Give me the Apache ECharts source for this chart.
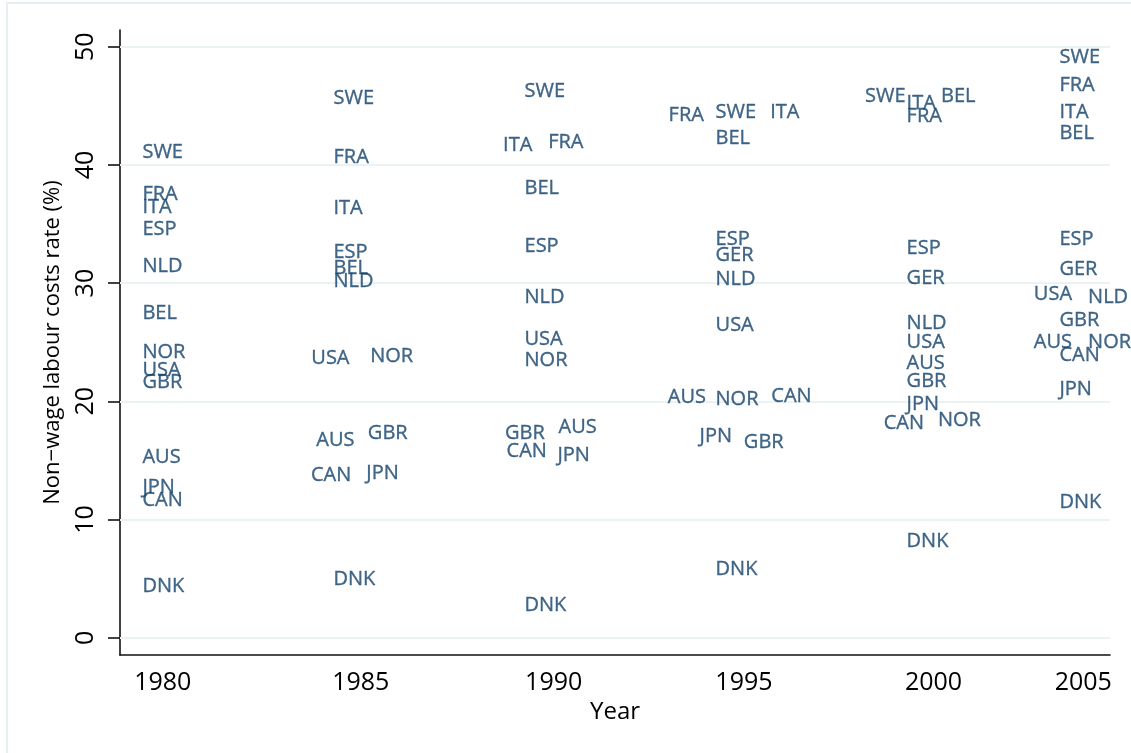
<!DOCTYPE html>
<html>
<head>
<meta charset="utf-8">
<script src="https://cdn.jsdelivr.net/npm/echarts@6/dist/echarts.min.js"></script>
<style>html,body{margin:0;padding:0;background:#fff;}#c{width:1131px;height:753px;}</style>
</head>
<body>
<div id="c"></div>
<script>
// Country codes (order used by all the arrays below)
const countries = ['SWE','FRA','ITA','BEL','ESP','GER','NLD','USA','NOR','GBR','AUS','CAN','JPN','DNK'];

// Non-wage labour costs rate (%) per survey year, in the country order above
const rate1980 = [41.2, 37.7, 36.6, 27.6, 34.7, null, 31.6, 22.8, 24.3, 21.8, 15.4, 11.8, 12.9, 4.5];
const rate1985 = [45.8, 40.8, 36.5, 31.4, 32.8, null, 30.3, 23.8, 24.0, 17.5, 16.9, 13.9, 14.1, 5.1];
const rate1990 = [46.4, 42.1, 41.8, 38.2, 33.3, null, 29.0, 25.4, 23.6, 17.5, 18.0, 15.9, 15.6, 2.9];
const rate1995 = [44.6, 44.4, 44.6, 42.4, 33.9, 32.5, 30.5, 26.6, 20.3, 16.7, 20.5, 20.6, 17.2, 6.0];
const rate2000 = [46.0, 44.3, 45.4, 46.0, 33.1, 30.6, 26.8, 25.2, 18.6, 21.9, 23.4, 18.3, 19.9, 8.3];
const rate2005 = [49.3, 46.9, 44.6, 42.8, 33.9, 31.3, 29.0, 29.2, 25.2, 27.0, 25.2, 24.1, 21.2, 11.6];

// Horizontal position of each label (year units, jittered as in the original)
const x1980 = [1980, 1980, 1980, 1980, 1980, 1980, 1980, 1980, 1980, 1980, 1980, 1980, 1980, 1980];
const x1985 = [1985, 1985, 1985, 1985, 1985, 1985, 1985, 1984.42, 1985.96, 1985.90, 1984.55, 1984.41, 1985.86, 1985];
const x1990 = [1990, 1990.62, 1989.44, 1990, 1990, 1990, 1990, 1990, 1990, 1989.49, 1990.89, 1989.53, 1990.86, 1990];
const x1995 = [1995, 1993.77, 1996.43, 1995, 1995, 1995, 1995, 1995, 1995, 1995.74, 1993.75, 1996.46, 1994.58, 1995];
const x2000 = [1998.91, 2000, 2000, 2000.90, 2000, 2000, 2000, 2000, 2000.82, 2000, 2000, 1999.40, 2000, 2000];
const x2005 = [2004, 2004, 2004, 2004, 2004, 2004, 2004.75, 2003.33, 2004.75, 2004, 2003.33, 2004, 2004, 2004];

const groups = [
  {name: '1980', x: x1980, y: rate1980},
  {name: '1985', x: x1985, y: rate1985},
  {name: '1990', x: x1990, y: rate1990},
  {name: '1995', x: x1995, y: rate1995},
  {name: '2000', x: x2000, y: rate2000},
  {name: '2005', x: x2005, y: rate2005}
];

// Axis ticks
const xTickPos = [1980.52, 1985.70, 1990.75, 1995.73, 2000.69, 2004.61];
const xTickLabels = ['1980', '1985', '1990', '1995', '2000', '2005'];
const yTicks = [0, 10, 20, 30, 40, 50];

const labelColor = '#14426b';
const font = 'Open Sans';

const series = groups.map((g, gi) => {
  const data = [];
  countries.forEach((c, i) => {
    if (g.y[i] !== null) data.push([g.x[i], g.y[i], c]);
  });
  const s = {
    type: 'scatter',
    name: g.name,
    data: data,
    symbol: 'circle',
    symbolSize: 1,
    itemStyle: {color: 'rgba(0,0,0,0)'},
    silent: true,
    clip: false,
    label: {
      show: true,
      position: 'right',
      distance: 0,
      offset: [-1, 2],
      formatter: p => p.data[2],
      color: labelColor,
      fontFamily: font,
      fontSize: 20,
      textBorderColor: labelColor,
      textBorderWidth: 0.35
    },
    z: 5
  };
  if (gi === 0) {
    s.markLine = {
      silent: true,
      symbol: 'none',
      label: {show: false},
      lineStyle: {color: '#eaf2f3', width: 2, type: 'solid'},
      data: yTicks.map(v => ({yAxis: v})),
      z: 1
    };
  }
  return s;
});

const chart = echarts.init(document.getElementById('c'), null, {renderer: 'canvas'});
chart.setOption({
  backgroundColor: '#ffffff',
  animation: false,
  graphic: [{
    type: 'rect',
    shape: {x: 7, y: 3, width: 1140, height: 760},
    style: {fill: 'none', stroke: '#e8eff2', lineWidth: 2},
    silent: true,
    z: -10
  }],
  grid: {left: 120, right: 21, top: 30, bottom: 98, containLabel: false},
  xAxis: {
    type: 'value',
    min: 1979.40,
    max: 2005.31,
    name: 'Year',
    nameLocation: 'middle',
    nameGap: 45,
    nameTextStyle: {color: '#000', fontFamily: font, fontSize: 24},
    axisLine: {show: true, onZero: false, lineStyle: {color: '#111', width: 1.6}},
    axisTick: {show: false},
    splitLine: {show: false},
    axisLabel: {
      show: true,
      customValues: xTickPos,
      formatter: v => {
        const i = xTickPos.findIndex(t => Math.abs(t - v) < 1e-6);
        return i >= 0 ? xTickLabels[i] : '';
      },
      color: '#000',
      fontFamily: font,
      fontSize: 25,
      margin: 15,
      showMinLabel: true,
      showMaxLabel: true
    }
  },
  yAxis: {
    type: 'value',
    min: -1.46,
    max: 51.41,
    name: 'Non\u2212wage labour costs rate (%)',
    nameLocation: 'middle',
    nameRotate: 90,
    nameGap: 56,
    nameTextStyle: {color: '#000', fontFamily: font, fontSize: 22},
    axisLine: {show: true, onZero: false, lineStyle: {color: '#111', width: 1.6}},
    axisTick: {show: true, customValues: yTicks, length: 12, lineStyle: {color: '#111', width: 1.6}},
    splitLine: {show: false},
    axisLabel: {
      show: true,
      customValues: yTicks,
      rotate: 90,
      color: '#000',
      fontFamily: font,
      fontSize: 25,
      margin: 22
    }
  },
  series: series
});
</script>
</body>
</html>
